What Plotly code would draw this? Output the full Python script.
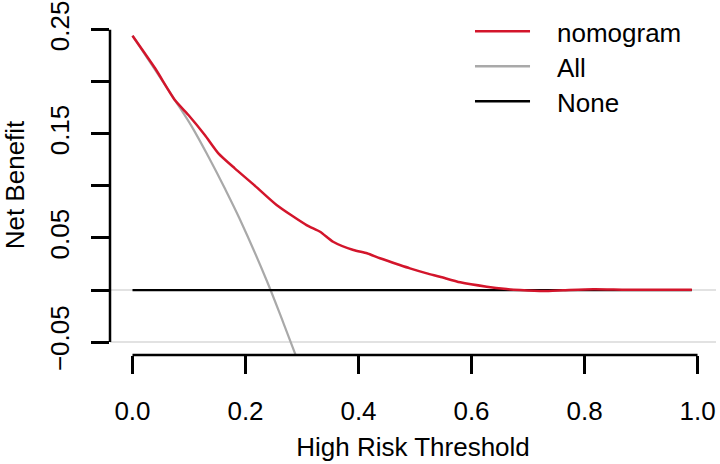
import plotly.graph_objects as go

# ---- data ----
nomogram_t = [0.0, 0.04, 0.075, 0.099, 0.128, 0.152, 0.181, 0.214, 0.255, 0.308,
              0.332, 0.355, 0.391, 0.415, 0.438, 0.473, 0.491, 0.521, 0.544, 0.580,
              0.627, 0.662, 0.686, 0.727, 0.762, 0.816, 0.875, 0.99]
nomogram_nb = [0.2443, 0.2130, 0.1825, 0.1681, 0.1489, 0.1313, 0.1169, 0.1015, 0.0817, 0.0624,
               0.0560, 0.0464, 0.0384, 0.0353, 0.0305, 0.0240, 0.0208, 0.0160, 0.0128, 0.0074,
               0.0032, 0.0010, 0.0000, -0.0010, -0.0003, 0.0007, 0.0003, 0.0003]

all_t = [0.0, 0.075, 0.105, 0.134, 0.164, 0.190, 0.2375, 0.267, 0.2876, 0.30]
all_nb = [0.2443, 0.1825, 0.1570, 0.1285, 0.0970, 0.0680, 0.0092, -0.0315, -0.0608, -0.079]

none_t = [0.0, 0.99]
none_nb = [0.0, 0.0]

x_tickvals = [0.0, 0.2, 0.4, 0.6, 0.8, 1.0]
x_ticktext = ["0.0", "0.2", "0.4", "0.6", "0.8", "1.0"]
y_tickvals = [-0.05, 0.0, 0.05, 0.10, 0.15, 0.20, 0.25]
y_ticktext = ["\u22120.05", "", "0.05", "", "0.15", "", "0.25"]

legend_names = ["nomogram", "All", "None"]

RED = "#D3152B"
GRAY = "#A9A9A9"
LIGHT = "#E2E2E2"
FONT = "Liberation Sans, Arial, sans-serif"
FS = 26
legend_colors = [RED, GRAY, "black"]

fig = go.Figure()
fig.add_trace(go.Scatter(x=all_t, y=all_nb, mode="lines", name="All",
                         line=dict(color=GRAY, width=2.2, shape="spline"), showlegend=False))
fig.add_trace(go.Scatter(x=none_t, y=none_nb, mode="lines", name="None",
                         line=dict(color="black", width=2.2), showlegend=False))
fig.add_trace(go.Scatter(x=nomogram_t, y=nomogram_nb, mode="lines", name="nomogram",
                         line=dict(color=RED, width=2.5, shape="spline", smoothing=0.6),
                         showlegend=False))

# light reference lines
for yv in [0.0, -0.05]:
    fig.add_shape(type="line", xref="paper", x0=0, x1=1, yref="y", y0=yv, y1=yv,
                  line=dict(color=LIGHT, width=2), layer="below")
# axis lines (R style, spanning only the tick range)
fig.add_shape(type="line", xref="paper", x0=0, x1=0, yref="y", y0=-0.05, y1=0.25,
              line=dict(color="black", width=2.5))
fig.add_shape(type="line", xref="x", x0=0, x1=1, yref="paper", y0=0, y1=0,
              line=dict(color="black", width=2.5))

# legend (R style: long line samples, no box)
leg_y = [0.9521, 0.8492, 0.7462]
for name, col, yy in zip(legend_names, legend_colors, leg_y):
    fig.add_shape(type="line", xref="paper", yref="paper", x0=0.6023, x1=0.6931,
                  y0=yy, y1=yy, line=dict(color=col, width=2.5))
    fig.add_annotation(xref="paper", yref="paper", x=0.7343, y=yy - 0.004,
                       xanchor="left", yanchor="middle", showarrow=False,
                       text=name, font=dict(family=FONT, size=FS, color="black"))

fig.update_layout(
    width=720, height=464,
    margin=dict(l=110, r=4, t=15, b=109),
    paper_bgcolor="white", plot_bgcolor="white",
    font=dict(family=FONT, size=FS, color="black"),
    showlegend=False,
    xaxis=dict(range=[-0.0398, 1.0327], showgrid=False, zeroline=False, showline=False,
               automargin=False,
               tickvals=x_tickvals, ticktext=x_ticktext,
               tickfont=dict(family=FONT, size=FS),
               ticks="outside", ticklen=18, tickwidth=2.5, tickcolor="black",
               ticklabelstandoff=15, ticklabeloverflow="allow",
               title=dict(text="High Risk Threshold", standoff=12,
                          font=dict(family=FONT, size=FS))),
    yaxis=dict(range=[-0.0624, 0.2642], showgrid=False, zeroline=False, showline=False,
               automargin=False,
               tickvals=y_tickvals, ticktext=y_ticktext, tickangle=-90,
               tickfont=dict(family=FONT, size=FS),
               ticks="outside", ticklen=18, tickwidth=2.5, tickcolor="black",
               ticklabelstandoff=12, ticklabeloverflow="allow",
               title=dict(text="Net Benefit", standoff=23,
                          font=dict(family=FONT, size=FS))),
)

# remove the browser's default 8px page margin so the figure fills the window
fig.write_html("out.html",
               config={"displayModeBar": False},
               post_script="document.body.style.margin='0';document.body.style.overflow='hidden';")
